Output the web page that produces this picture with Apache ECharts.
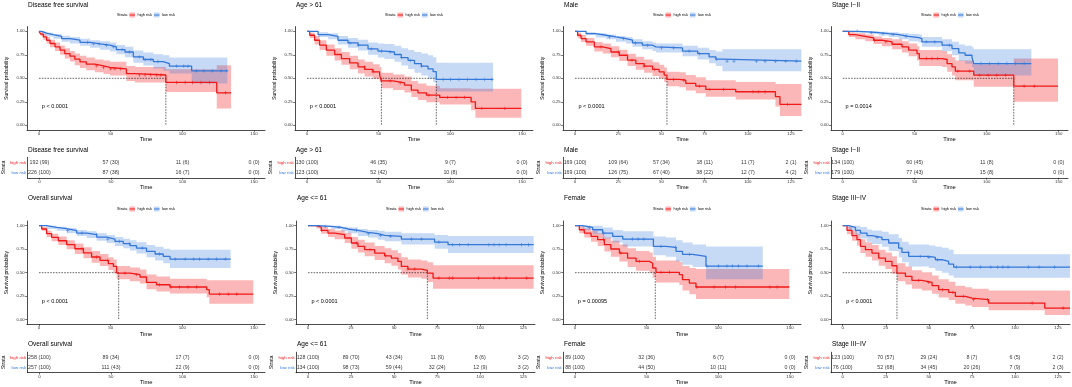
<!DOCTYPE html>
<html>
<head>
<meta charset="utf-8">
<script src="https://cdn.jsdelivr.net/npm/echarts@6/dist/echarts.min.js"></script>
<style>html,body{margin:0;padding:0;background:#fff}#chart{width:1072px;height:387px}</style>
</head>
<body>
<div id="chart"></div>
<script>
const RED = '#F01818', BLUE = '#3478DA';
const RED_BAND = 'rgba(242,30,30,0.32)', BLUE_BAND = 'rgba(52,120,218,0.28)';
const FONT = '"Liberation Sans", Arial, sans-serif';

const ticks150 = [0, 50, 100, 150];
const ticks125 = [0, 25, 50, 75, 100, 125];

// KM rows: [time, survival, lower, upper]
const dfsHigh = [[0,1,1,1],[1.2,.97,.95,.99],[3,.94,.91,.97],[5.3,.905,.87,.94],[7.7,.87,.83,.91],[11.2,.834,.79,.88],[14.7,.80,.75,.85],[18,.763,.71,.82],[21.6,.735,.68,.79],[25,.703,.64,.765],[28.6,.675,.61,.74],[33,.65,.585,.72],[39,.632,.565,.70],[45,.615,.545,.69],[49.5,.60,.53,.675],[61,.55,.47,.63],[67,.535,.455,.62],[88.5,.456,.355,.595],[124,.346,.18,.64],[134,.346,.18,.64]];
const dfsLow = [[0,1,1,1],[2,.98,.965,.995],[5.3,.965,.945,.985],[10,.947,.92,.97],[15.8,.922,.89,.952],[21.6,.905,.87,.94],[28.6,.883,.845,.92],[35.6,.866,.825,.905],[42.6,.852,.805,.895],[49.5,.834,.785,.88],[54,.806,.755,.855],[60,.78,.725,.835],[65.8,.728,.665,.795],[72.8,.70,.635,.775],[79.8,.678,.605,.755],[86.7,.657,.58,.745],[91,.629,.55,.72],[106.5,.579,.445,.72],[131.4,.579,.445,.72]];
const age61High = [[0,1,1,1],[1.9,.958,.93,.985],[5.3,.905,.86,.95],[8.8,.852,.80,.905],[13.5,.80,.74,.86],[19.3,.753,.69,.82],[24,.71,.645,.78],[29.8,.664,.595,.74],[35.6,.622,.55,.70],[40.2,.594,.52,.675],[46,.569,.495,.65],[50.7,.534,.46,.62],[51.9,.473,.395,.56],[60,.452,.375,.54],[68,.428,.35,.52],[72.8,.375,.30,.47],[77.4,.346,.27,.445],[83.3,.322,.245,.42],[92.6,.297,.22,.395],[114.5,.25,.16,.39],[117.5,.18,.08,.39],[149.5,.18,.08,.39]];
const age61Low = [[0,1,1,1],[7.7,.965,.94,.99],[14.7,.947,.915,.98],[21.6,.905,.86,.95],[28.6,.876,.825,.93],[35.6,.852,.795,.91],[42.6,.813,.75,.88],[49.5,.79,.72,.87],[54,.78,.705,.865],[61,.753,.675,.845],[65.8,.72,.635,.82],[70.5,.69,.60,.80],[75,.657,.56,.78],[79.8,.63,.53,.765],[84.4,.60,.495,.745],[88,.57,.46,.725],[90.2,.488,.36,.665],[129.8,.488,.36,.665]];
const maleHigh = [[0,1,1,1],[1.5,.958,.93,.985],[3.5,.922,.885,.96],[6.4,.887,.845,.93],[11.2,.834,.785,.885],[16,.816,.765,.87],[20.8,.78,.725,.84],[25.6,.745,.685,.805],[30.4,.693,.63,.76],[35.2,.657,.59,.73],[40,.629,.56,.70],[44.9,.594,.525,.67],[48.7,.569,.50,.645],[51.6,.534,.46,.615],[53.2,.488,.415,.57],[60.3,.48,.405,.565],[64.1,.445,.37,.535],[69.9,.417,.34,.51],[75.7,.382,.305,.48],[93,.357,.275,.46],[116,.304,.20,.44],[118.6,.223,.10,.44],[131,.223,.10,.44]];
const maleLow = [[0,1,1,1],[6.4,.975,.96,.99],[12,.958,.935,.98],[18,.94,.915,.965],[23.7,.922,.89,.95],[29.5,.905,.87,.94],[33.3,.876,.835,.915],[39,.852,.81,.895],[44.9,.834,.79,.88],[46.8,.823,.775,.87],[62.2,.79,.735,.845],[71,.763,.70,.825],[77.6,.728,.66,.80],[81.5,.703,.63,.785],[85.3,.682,.575,.81],[131,.682,.575,.81]];
const stage12High = [[0,1,1,1],[4.2,.965,.94,.99],[8.8,.947,.915,.98],[15.7,.93,.895,.965],[21.5,.905,.865,.945],[27.3,.887,.84,.93],[34.3,.862,.81,.915],[41.2,.834,.775,.895],[45.8,.80,.735,.87],[51.6,.763,.69,.84],[53.2,.71,.63,.80],[69,.70,.62,.79],[72.5,.657,.57,.755],[75.9,.622,.53,.725],[78.2,.576,.48,.69],[91,.534,.41,.65],[118.8,.417,.25,.71],[149.5,.417,.25,.71]];
const stage12Low = [[0,1,1,1],[11,.993,.985,1],[18,.986,.97,1],[25,.975,.955,.995],[32,.965,.94,.99],[38.9,.947,.915,.98],[45.8,.933,.895,.97],[52.8,.922,.88,.965],[55,.887,.835,.94],[69,.852,.79,.915],[75.9,.816,.745,.89],[80.6,.77,.685,.86],[85,.745,.655,.845],[89.8,.72,.62,.83],[91,.657,.53,.81],[131,.657,.53,.81]];
const osHigh = [[0,1,1,1],[1.9,.965,.945,.985],[5.3,.915,.88,.945],[8.8,.876,.835,.915],[13.5,.84,.795,.885],[19.3,.798,.75,.845],[25,.755,.70,.81],[31,.71,.655,.77],[36.7,.667,.605,.73],[42.6,.631,.57,.70],[48.4,.596,.53,.665],[51.9,.567,.50,.64],[54.2,.496,.43,.57],[63.5,.479,.41,.555],[70.5,.454,.385,.535],[75,.397,.325,.48],[82,.372,.30,.46],[91.4,.348,.28,.435],[117,.319,.24,.42],[118.8,.273,.17,.42],[149.5,.273,.17,.42]];
const osLow = [[0,1,1,1],[5.3,.982,.965,1],[12.3,.968,.945,.99],[19.3,.947,.92,.975],[26.3,.922,.89,.955],[33.3,.904,.87,.94],[40.2,.879,.84,.92],[47.2,.858,.815,.90],[53,.833,.785,.88],[58.8,.809,.76,.86],[63.5,.787,.735,.845],[68,.762,.705,.825],[75,.727,.665,.795],[81,.699,.63,.775],[86.7,.674,.60,.755],[91.4,.645,.55,.745],[133.7,.645,.55,.745]];
const ageLeHigh = [[0,1,1,1],[4.8,.986,.97,1],[7.7,.95,.915,.985],[11.6,.922,.88,.965],[15.5,.904,.855,.95],[21.3,.869,.815,.925],[25.2,.816,.755,.88],[29,.78,.715,.85],[32.9,.745,.675,.82],[38.7,.709,.635,.785],[44.5,.68,.60,.76],[48.4,.656,.575,.74],[52.2,.62,.535,.71],[54.2,.567,.48,.665],[58,.539,.45,.64],[65.8,.525,.435,.63],[69.3,.496,.40,.61],[72.6,.443,.33,.58],[131,.443,.33,.58]];
const ageLeLow = [[0,1,1,1],[5.8,.993,.985,1],[13.5,.982,.965,1],[19.3,.965,.94,.99],[23.2,.95,.92,.98],[29,.929,.89,.965],[34.8,.915,.875,.955],[40.6,.897,.85,.945],[44.5,.887,.835,.935],[54.2,.858,.80,.92],[73.5,.826,.755,.90],[81.3,.798,.71,.89],[131,.798,.71,.89]];
const femaleHigh = [[0,1,1,1],[3,.957,.92,.995],[6.5,.922,.875,.97],[11.2,.887,.83,.945],[15.8,.851,.785,.92],[20.5,.798,.725,.875],[25,.752,.67,.84],[31,.709,.62,.80],[36.7,.656,.56,.76],[42.6,.62,.52,.73],[51.9,.60,.50,.715],[54.2,.55,.445,.67],[56.5,.504,.395,.63],[72.8,.479,.37,.615],[75,.426,.31,.57],[79.8,.39,.27,.55],[84.4,.348,.22,.54],[149.5,.348,.22,.54]];
const femaleLow = [[0,1,1,1],[5.3,.982,.955,1],[12.3,.957,.91,1],[19.3,.922,.865,.98],[26.3,.887,.82,.955],[33.3,.858,.78,.94],[54.7,.78,.685,.885],[63.5,.77,.67,.875],[70.5,.727,.62,.845],[75,.695,.585,.82],[82,.674,.56,.80],[91.4,.571,.43,.78],[131,.571,.43,.78]];
const stage34High = [[0,1,1,1],[2.5,.95,.91,.99],[5.4,.894,.84,.95],[8.3,.851,.79,.915],[10.3,.78,.71,.855],[13.2,.745,.67,.825],[17,.709,.63,.795],[20.9,.656,.575,.745],[24.8,.62,.54,.715],[28.6,.574,.49,.675],[31.5,.496,.41,.60],[36.4,.461,.375,.565],[40.2,.418,.33,.525],[46,.397,.31,.505],[51.9,.362,.275,.47],[55.7,.319,.235,.43],[61.5,.291,.21,.405],[65.4,.248,.17,.36],[71.2,.23,.15,.345],[75.1,.213,.135,.33],[84.7,.177,.10,.31],[117.3,.124,.05,.31],[132,.124,.05,.31]];
const stage34Low = [[0,1,1,1],[3.5,.982,.95,1],[7.4,.95,.90,1],[10.3,.922,.865,.985],[14.1,.894,.83,.96],[17,.876,.805,.95],[22.8,.851,.775,.935],[26.7,.816,.73,.91],[32.5,.762,.665,.87],[34.4,.716,.61,.83],[38.3,.674,.565,.80],[50,.663,.55,.79],[53.8,.638,.52,.775],[57.7,.62,.50,.765],[61.5,.592,.47,.745],[64.4,.56,.445,.695],[132,.56,.445,.695]];

// censoring times
const dfsHighCens = [40,45,50,53,57,70,74,78,82,85,96,102,107,113,119,130];
const dfsLowCens = [34,38,42,47,52,58,63,70,74,78,83,96,101,104,110,115,121,127,131];
const age61HighCens = [40,46,58,65,85,98,104,110,122,138];
const age61LowCens = [30,36,45,52,58,66,72,80,95,100,106,112,118,124,129];
const maleHighCens = [15,25,33,40,46,57,63,72,78,86,103,106,110,123];
const maleLowCens = [20,28,35,42,50,57,66,72,82,88,92,105,110,116,122,128];
const stage12HighCens = [22,30,58,62,66,80,88,95,101,107,113,126,133];
const stage12LowCens = [10,20,28,35,44,58,64,74,96,102,108,114,120,126];
const osHighCens = [30,40,48,60,68,84,92,98,104,110,126,132,138];
const osLowCens = [20,30,40,48,56,63,72,84,95,102,108,112,118,124,130];
const ageLeHighCens = [8,28,36,45,58,62,76,82,84,99,108,111,115,127];
const ageLeLowCens = [10,18,28,35,42,48,60,66,76,84,88,93,105,108,111,115,124,128];
const femaleHighCens = [20,32,45,60,66,85,97,105,112,136,141];
const femaleLowCens = [10,20,40,44,48,60,70,80,92,100,106,110,114,120,128];
const stage34HighCens = [44,50,58,64,70,76,84,110,128];
const stage34LowCens = [20,38,45,50,55,66,74,80,86,90,93,96,108,114,123];

// median survival times
const dfsMedian = [88.5];
const age61Median = [51.9, 90.2];
const maleMedian = [53.2];
const stage12Median = [118.8];
const osMedian = [55.6];
const ageLeMedian = [69.3];
const femaleMedian = [56];
const stage34Median = [31.5];

// number at risk: [n, percent]
const dfsRiskHigh = [[192,99],[57,30],[11,6],[0,0]];
const dfsRiskLow = [[226,100],[87,38],[16,7],[0,0]];
const age61RiskHigh = [[130,100],[46,35],[9,7],[0,0]];
const age61RiskLow = [[123,100],[52,42],[10,8],[0,0]];
const maleRiskHigh = [[169,100],[109,64],[57,34],[18,11],[11,7],[2,1]];
const maleRiskLow = [[169,100],[126,75],[67,40],[38,22],[12,7],[4,2]];
const stage12RiskHigh = [[134,100],[60,45],[11,8],[0,0]];
const stage12RiskLow = [[179,100],[77,43],[15,8],[0,0]];
const osRiskHigh = [[258,100],[89,34],[17,7],[0,0]];
const osRiskLow = [[257,100],[111,43],[22,9],[0,0]];
const ageLeRiskHigh = [[128,100],[89,70],[43,34],[11,9],[8,6],[3,2]];
const ageLeRiskLow = [[134,100],[98,73],[59,44],[32,24],[12,9],[3,2]];
const femaleRiskHigh = [[89,100],[32,36],[6,7],[0,0]];
const femaleRiskLow = [[88,100],[44,50],[10,11],[0,0]];
const stage34RiskHigh = [[123,100],[70,57],[29,24],[8,7],[6,5],[2,2]];
const stage34RiskLow = [[76,100],[52,68],[34,45],[20,26],[7,9],[2,3]];

const panels = [
  {title:'Disease free survival', high:dfsHigh, low:dfsLow, highCens:dfsHighCens, lowCens:dfsLowCens, medians:dfsMedian, pval:'p < 0.0001', ticks:ticks150, riskHigh:dfsRiskHigh, riskLow:dfsRiskLow},
  {title:'Age > 61', high:age61High, low:age61Low, highCens:age61HighCens, lowCens:age61LowCens, medians:age61Median, pval:'p < 0.0001', ticks:ticks150, riskHigh:age61RiskHigh, riskLow:age61RiskLow},
  {title:'Male', high:maleHigh, low:maleLow, highCens:maleHighCens, lowCens:maleLowCens, medians:maleMedian, pval:'p < 0.0001', ticks:ticks125, riskHigh:maleRiskHigh, riskLow:maleRiskLow},
  {title:'Stage I\u2212II', high:stage12High, low:stage12Low, highCens:stage12HighCens, lowCens:stage12LowCens, medians:stage12Median, pval:'p = 0.0014', ticks:ticks150, riskHigh:stage12RiskHigh, riskLow:stage12RiskLow},
  {title:'Overall survival', high:osHigh, low:osLow, highCens:osHighCens, lowCens:osLowCens, medians:osMedian, pval:'p < 0.0001', ticks:ticks150, riskHigh:osRiskHigh, riskLow:osRiskLow},
  {title:'Age <= 61', high:ageLeHigh, low:ageLeLow, highCens:ageLeHighCens, lowCens:ageLeLowCens, medians:ageLeMedian, pval:'p < 0.0001', ticks:ticks125, riskHigh:ageLeRiskHigh, riskLow:ageLeRiskLow},
  {title:'Female', high:femaleHigh, low:femaleLow, highCens:femaleHighCens, lowCens:femaleLowCens, medians:femaleMedian, pval:'p = 0.00095', ticks:ticks150, riskHigh:femaleRiskHigh, riskLow:femaleRiskLow},
  {title:'Stage III\u2212IV', high:stage34High, low:stage34Low, highCens:stage34HighCens, lowCens:stage34LowCens, medians:stage34Median, pval:'p < 0.0001', ticks:ticks125, riskHigh:stage34RiskHigh, riskLow:stage34RiskLow}
];

// pixel layout of each panel: plot left/right edge, pixel of first and last tick
const layout = [
  {row:0, left:27, right:265, px0:39, px1:254},
  {row:0, left:295, right:533, px0:307, px1:522},
  {row:0, left:563, right:802, px0:575, px1:791},
  {row:0, left:831, right:1068, px0:842.7, px1:1058.7},
  {row:1, left:27, right:265, px0:39, px1:254},
  {row:1, left:296, right:535, px0:308, px1:523.3},
  {row:1, left:563, right:801, px0:575, px1:790},
  {row:1, left:831, right:1070, px0:842.7, px1:1058}
];
const rowLay = [
  {kmTop:26.6, kmH:103.4, riskTop:157.3, riskH:20.5, titleY:5, riskTitleY:150.5, legendY:15},
  {kmTop:221, kmH:103.4, riskTop:352.2, riskH:20.5, titleY:198.7, riskTitleY:344.7, legendY:209}
];

const survAt = (rows, t) => {
  let s = rows[0][1];
  rows.forEach(r => { if (r[0] <= t) s = r[1]; });
  return s;
};
const plus = 'path://M2,0h1v2h2v1h-2v2h-1v-2h-2v-1h2z';

const grid = [], xAxis = [], yAxis = [], series = [], graphic = [];
const axisLine = {show:true, onZero:false, lineStyle:{color:'#111', width:0.75}};
const txt = (x, y, text, size, fill, extra) => ({type:'text', x, y, silent:true,
  style: Object.assign({text, fontSize:size, fill, fontFamily:FONT, verticalAlign:'middle', align:'left'}, extra || {})});

// confidence band as one stepped polygon, placed through the axes
const bandSeries = (rows, col, k) => ({
  type:'custom', xAxisIndex:k, yAxisIndex:k, silent:true, clip:true,
  data:rows.map(r => [r[0], r[2], r[3]]),
  encode:{x:0, y:[1, 2]},
  renderItem:(params, api) => {
    if (params.dataIndex !== 0) return null;
    const top = [], bot = [];
    rows.forEach((r, j) => {
      const tEnd = j < rows.length - 1 ? rows[j + 1][0] : r[0];
      top.push(api.coord([r[0], r[3]]), api.coord([tEnd, r[3]]));
      bot.push(api.coord([r[0], r[2]]), api.coord([tEnd, r[2]]));
    });
    return {type:'polygon', shape:{points:top.concat(bot.reverse())}, style:{fill:col}};
  }
});

panels.forEach((p, i) => {
  const L = layout[i], R = rowLay[L.row];
  const last = p.ticks[p.ticks.length - 1];
  const sc = (L.px1 - L.px0) / last;
  const xmin = (L.left - L.px0) / sc, xmax = (L.right - L.px0) / sc;
  const k = grid.length;
  grid.push({left:L.left, top:R.kmTop, width:L.right - L.left, height:R.kmH, containLabel:false});
  grid.push({left:L.left, top:R.riskTop, width:L.right - L.left, height:R.riskH, containLabel:false});
  const xBase = {type:'value', min:xmin, max:xmax, name:'Time', nameLocation:'middle', nameGap:6.3,
    nameTextStyle:{fontSize:5.8, color:'#000', fontFamily:FONT},
    axisLine, splitLine:{show:false},
    axisTick:{show:true, length:1.8, customValues:p.ticks, lineStyle:{color:'#111', width:0.6}},
    axisLabel:{customValues:p.ticks, fontSize:4.4, color:'#333', margin:1.8, fontFamily:FONT}};
  xAxis.push(Object.assign({gridIndex:k}, xBase));
  xAxis.push(Object.assign({gridIndex:k + 1}, xBase));
  const yt = [0, 0.25, 0.5, 0.75, 1];
  yAxis.push({type:'value', gridIndex:k, min:-0.05, max:1.05, name:'Survival probability', nameLocation:'middle',
    nameRotate:90, nameGap:18, nameTextStyle:{fontSize:5.2, color:'#000', fontFamily:FONT},
    axisLine, splitLine:{show:false},
    axisTick:{show:true, length:1.8, customValues:yt, lineStyle:{color:'#111', width:0.6}},
    axisLabel:{customValues:yt, fontSize:4.2, color:'#333', margin:2.3, fontFamily:FONT, formatter:v => v.toFixed(2)}});
  yAxis.push({type:'category', gridIndex:k + 1, data:['low risk', 'high risk'], name:'Strata', nameLocation:'middle',
    nameRotate:90, nameGap:19, nameTextStyle:{fontSize:5.2, color:'#000', fontFamily:FONT},
    axisLine, axisTick:{show:false}, splitLine:{show:false},
    axisLabel:{fontSize:4.4, margin:1.2, fontFamily:FONT, color:v => v === 'high risk' ? RED : BLUE}});

  const base = {xAxisIndex:k, yAxisIndex:k, silent:true, animation:false};
  series.push(bandSeries(p.high, RED_BAND, k));
  series.push(bandSeries(p.low, BLUE_BAND, k));
  // median lines
  const mMax = Math.max(...p.medians);
  series.push(Object.assign({type:'line', symbol:'none', lineStyle:{color:'#000', width:0.6, type:[1.6, 1.2]},
    data:[[0, 0.5], [mMax, 0.5]]}, base));
  p.medians.forEach(m => series.push(Object.assign({type:'line', symbol:'none',
    lineStyle:{color:'#000', width:0.6, type:[1.6, 1.2]}, data:[[m, 0.5], [m, 0]]}, base)));
  // survival curves + censor marks
  [[p.high, p.highCens, RED], [p.low, p.lowCens, BLUE]].forEach(([rows, cens, col]) => {
    series.push(Object.assign({type:'line', step:'end', symbol:'none', lineStyle:{color:col, width:1.3},
      data:rows.map(r => [r[0], r[1]])}, base));
    series.push(Object.assign({type:'scatter', symbol:plus, symbolSize:3.4, itemStyle:{color:col},
      data:cens.map(t => [t, survAt(rows, t)])}, base));
  });
  // risk table
  [['high risk', p.riskHigh], ['low risk', p.riskLow]].forEach(([g, rr]) => {
    series.push({type:'scatter', xAxisIndex:k + 1, yAxisIndex:k + 1, silent:true, symbolSize:0,
      data:rr.map((r, j) => [p.ticks[j], g, r[0], r[1]]),
      label:{show:true, position:'inside', fontSize:5.3, color:'#000', fontFamily:FONT,
        formatter:q => q.data[2] + ' (' + q.data[3] + ')'}});
  });

  // texts
  graphic.push(txt(L.left + 1, R.titleY, p.title, 6.5, '#000'));
  graphic.push(txt(L.left + 1, R.riskTitleY, p.title, 6.5, '#000'));
  const yPv = R.kmTop + (1.05 - 0.195) / 1.1 * R.kmH;
  graphic.push(txt(L.px0 + 2 * sc, yPv, p.pval, 5.5, '#000'));
  // legend
  const ox = L.left - 27, ly = R.legendY;
  graphic.push(txt(ox + 117, ly, 'Strata', 3.9, '#000'));
  graphic.push({type:'rect', silent:true, shape:{x:ox + 129.5, y:ly - 2.5, width:5.5, height:5}, style:{fill:RED_BAND}});
  graphic.push({type:'line', silent:true, shape:{x1:ox + 129.5, y1:ly, x2:ox + 135, y2:ly}, style:{stroke:RED, lineWidth:1}});
  graphic.push(txt(ox + 137.5, ly, 'high risk', 3.9, '#000'));
  graphic.push({type:'rect', silent:true, shape:{x:ox + 154, y:ly - 2.5, width:5.5, height:5}, style:{fill:BLUE_BAND}});
  graphic.push({type:'line', silent:true, shape:{x1:ox + 154, y1:ly, x2:ox + 159.5, y2:ly}, style:{stroke:BLUE, lineWidth:1}});
  graphic.push(txt(ox + 162, ly, 'low risk', 3.9, '#000'));
});

const chart = echarts.init(document.getElementById('chart'), null, {renderer:'canvas'});
chart.setOption({animation:false, backgroundColor:'#fff', grid, xAxis, yAxis, series, graphic});
</script>
</body>
</html>
